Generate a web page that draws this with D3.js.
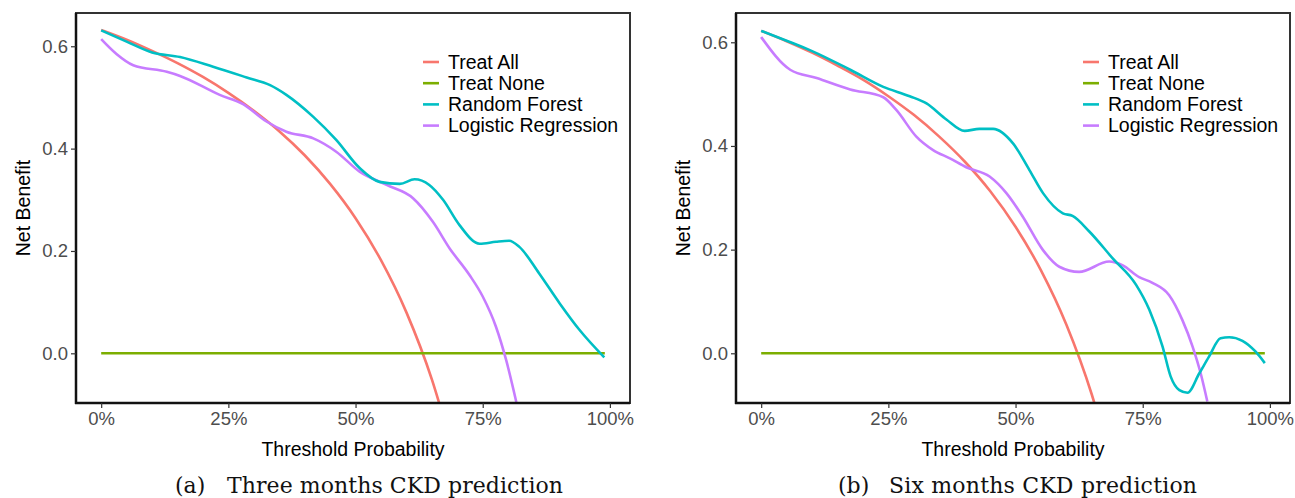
<!DOCTYPE html>
<head>
  <meta charset="utf-8">
  <script src="https://d3js.org/d3.v7.min.js"></script>
  <style>
    body { margin: 0; background: #fff; }
    text { font-family: "Liberation Sans", Arial, sans-serif; }
    .caption { font-family: "DejaVu Serif", "Liberation Serif", serif; font-size: 22px; fill: #111; }
  </style>
</head>
<body>
  <div id="graph"></div>
  <script>
    var width = 1295;
    var height = 498;

    // series names + colours (ggplot defaults)
    var seriesNames = ["Treat All", "Treat None", "Random Forest", "Logistic Regression"];
    var seriesColors = ["#F8766D", "#7CAE00", "#00BFC4", "#C77CFF"];

    // ---- panel (a): three months ----
    var allA_t = [0, 0.05, 0.10, 0.15, 0.20, 0.25, 0.30, 0.35, 0.40, 0.45, 0.50, 0.55, 0.60, 0.65, 0.68];
    var allA_v = [0.632, 0.613, 0.591, 0.567, 0.540, 0.509, 0.474, 0.434, 0.387, 0.331, 0.264, 0.182, 0.080, -0.051, -0.150];
    var noneA_t = [0, 0.99];
    var noneA_v = [0, 0];
    var rfA_t = [0, 0.05, 0.10, 0.155, 0.22, 0.286, 0.332, 0.364, 0.417, 0.462, 0.508, 0.547, 0.587, 0.616, 0.645, 0.672, 0.704, 0.744, 0.776, 0.802, 0.822, 0.861, 0.901, 0.94, 0.989];
    var rfA_v = [0.631, 0.609, 0.588, 0.579, 0.560, 0.539, 0.524, 0.505, 0.462, 0.417, 0.362, 0.335, 0.331, 0.340, 0.329, 0.300, 0.251, 0.214, 0.218, 0.220, 0.208, 0.156, 0.098, 0.046, -0.008];
    var lrA_t = [0, 0.03, 0.063, 0.129, 0.155, 0.233, 0.279, 0.325, 0.364, 0.417, 0.462, 0.508, 0.561, 0.613, 0.652, 0.685, 0.724, 0.75, 0.776, 0.796, 0.816];
    var lrA_v = [0.614, 0.585, 0.563, 0.550, 0.542, 0.505, 0.487, 0.453, 0.433, 0.420, 0.394, 0.355, 0.329, 0.303, 0.257, 0.205, 0.153, 0.111, 0.052, -0.013, -0.095];

    // ---- panel (b): six months ----
    var allB_t = [0, 0.05, 0.10, 0.15, 0.20, 0.25, 0.30, 0.35, 0.40, 0.45, 0.50, 0.55, 0.60, 0.65, 0.67];
    var allB_v = [0.622, 0.602, 0.580, 0.555, 0.528, 0.496, 0.460, 0.418, 0.370, 0.313, 0.244, 0.160, 0.055, -0.080, -0.146];
    var noneB_t = [0, 0.99];
    var noneB_v = [0, 0];
    var rfB_t = [0, 0.05, 0.10, 0.175, 0.24, 0.292, 0.325, 0.364, 0.40, 0.429, 0.456, 0.495, 0.527, 0.554, 0.593, 0.612, 0.645, 0.691, 0.737, 0.763, 0.789, 0.805, 0.822, 0.838, 0.861, 0.88, 0.903, 0.92, 0.946, 0.972, 0.99];
    var rfB_v = [0.622, 0.603, 0.583, 0.547, 0.514, 0.496, 0.482, 0.451, 0.429, 0.433, 0.433, 0.405, 0.354, 0.309, 0.270, 0.265, 0.235, 0.183, 0.132, 0.084, 0.013, -0.045, -0.071, -0.076, -0.039, -0.007, 0.029, 0.031, 0.024, 0.003, -0.019];
    var lrB_t = [0, 0.057, 0.109, 0.175, 0.24, 0.266, 0.305, 0.338, 0.371, 0.403, 0.449, 0.482, 0.514, 0.554, 0.586, 0.625, 0.684, 0.71, 0.743, 0.769, 0.802, 0.828, 0.848, 0.864, 0.877];
    var lrB_v = [0.610, 0.547, 0.531, 0.509, 0.494, 0.469, 0.418, 0.392, 0.376, 0.359, 0.341, 0.309, 0.264, 0.199, 0.167, 0.157, 0.177, 0.170, 0.147, 0.136, 0.112, 0.064, 0.013, -0.039, -0.093];

    var xTicks = [0, 0.25, 0.5, 0.75, 1];
    var yTicks = [0, 0.2, 0.4, 0.6];

    var svg = d3.select("#graph").append("svg")
      .attr("width", width)
      .attr("height", height);

    function zip(t, v) { return t.map((d, i) => [d, v[i]]); }

    function panel(id, x0, x1, yDomain, series, caption) {
      var top = 13, bottom = 403;
      var x = d3.scaleLinear().domain([-0.0495, 1.0395]).range([x0, x1]);
      var y = d3.scaleLinear().domain(yDomain).range([bottom, top]);

      svg.append("clipPath").attr("id", "clip" + id)
        .append("rect").attr("x", x0).attr("y", top).attr("width", x1 - x0).attr("height", bottom - top);

      var line = d3.line()
        .x(d => x(d[0]))
        .y(d => y(d[1]))
        .curve(d3.curveMonotoneX);

      var g = svg.append("g").attr("clip-path", "url(#clip" + id + ")");
      g.selectAll(".line").data(series).enter()
        .append("path")
        .attr("d", d => line(d.pts))
        .attr("stroke", d => d.color)
        .attr("stroke-width", 2.6)
        .attr("fill", "none");

      // frame
      svg.append("rect")
        .attr("x", x0).attr("y", top)
        .attr("width", x1 - x0).attr("height", bottom - top)
        .attr("fill", "none").attr("stroke", "#333").attr("stroke-width", 2);
      svg.append("line").attr("x1", x0).attr("x2", x0).attr("y1", top).attr("y2", bottom + 1)
        .attr("stroke", "#111").attr("stroke-width", 2.5);
      svg.append("line").attr("x1", x0 - 1).attr("x2", x1).attr("y1", bottom).attr("y2", bottom)
        .attr("stroke", "#111").attr("stroke-width", 2.5);

      var xAxis = svg.append("g")
        .attr("transform", "translate(0," + bottom + ")")
        .call(d3.axisBottom(x).tickValues(xTicks).tickSize(5).tickPadding(4).tickFormat(d3.format(".0%")));
      var yAxis = svg.append("g")
        .attr("transform", "translate(" + x0 + ",0)")
        .call(d3.axisLeft(y).tickValues(yTicks).tickSize(5).tickPadding(3).tickFormat(d3.format(".1f")));
      [xAxis, yAxis].forEach(a => {
        a.select(".domain").remove();
        a.selectAll(".tick line").attr("stroke", "#333").attr("stroke-width", 1.2);
        a.selectAll(".tick text").attr("fill", "#4d4d4d").style("font-size", "18.5px")
          .style("font-family", "Liberation Sans, Arial, sans-serif");
      });

      svg.append("text")
        .attr("x", (x0 + x1) / 2).attr("y", 456)
        .attr("text-anchor", "middle")
        .style("font-size", "19.5px")
        .text("Threshold Probability");
      svg.append("text")
        .attr("transform", "translate(" + (x0 - 46) + "," + ((top + bottom) / 2) + ") rotate(-90)")
        .attr("text-anchor", "middle")
        .style("font-size", "19.5px")
        .text("Net Benefit");

      // legend
      var lg = svg.append("g").attr("transform", "translate(" + (x0 + 347) + ",62)");
      seriesNames.forEach((n, i) => {
        lg.append("line").attr("x1", 0).attr("x2", 16).attr("y1", i * 21.2).attr("y2", i * 21.2)
          .attr("stroke", seriesColors[i]).attr("stroke-width", 2.6);
        lg.append("text").attr("x", 25).attr("y", i * 21.2).attr("dy", "0.35em")
          .style("font-size", "19.5px").text(n);
      });

      // caption
      svg.append("text").attr("class", "caption")
        .attr("x", caption.x).attr("y", 493).text(caption.label);
      svg.append("text").attr("class", "caption")
        .attr("x", caption.tx).attr("y", 493)
        .attr("textLength", caption.tw).attr("lengthAdjust", "spacing")
        .text(caption.text);
    }

    panel("a", 76, 630, [-0.0971, 0.665], [
      { color: seriesColors[0], pts: zip(allA_t, allA_v) },
      { color: seriesColors[1], pts: zip(noneA_t, noneA_v) },
      { color: seriesColors[3], pts: zip(lrA_t, lrA_v) },
      { color: seriesColors[2], pts: zip(rfA_t, rfA_v) }
    ], { x: 175, label: "(a)", tx: 227, tw: 336, text: "Three months CKD prediction" });

    panel("b", 736, 1290, [-0.0959, 0.6565], [
      { color: seriesColors[0], pts: zip(allB_t, allB_v) },
      { color: seriesColors[1], pts: zip(noneB_t, noneB_v) },
      { color: seriesColors[3], pts: zip(lrB_t, lrB_v) },
      { color: seriesColors[2], pts: zip(rfB_t, rfB_v) }
    ], { x: 838, label: "(b)", tx: 889, tw: 308, text: "Six months CKD prediction" });
  </script>
</body>
